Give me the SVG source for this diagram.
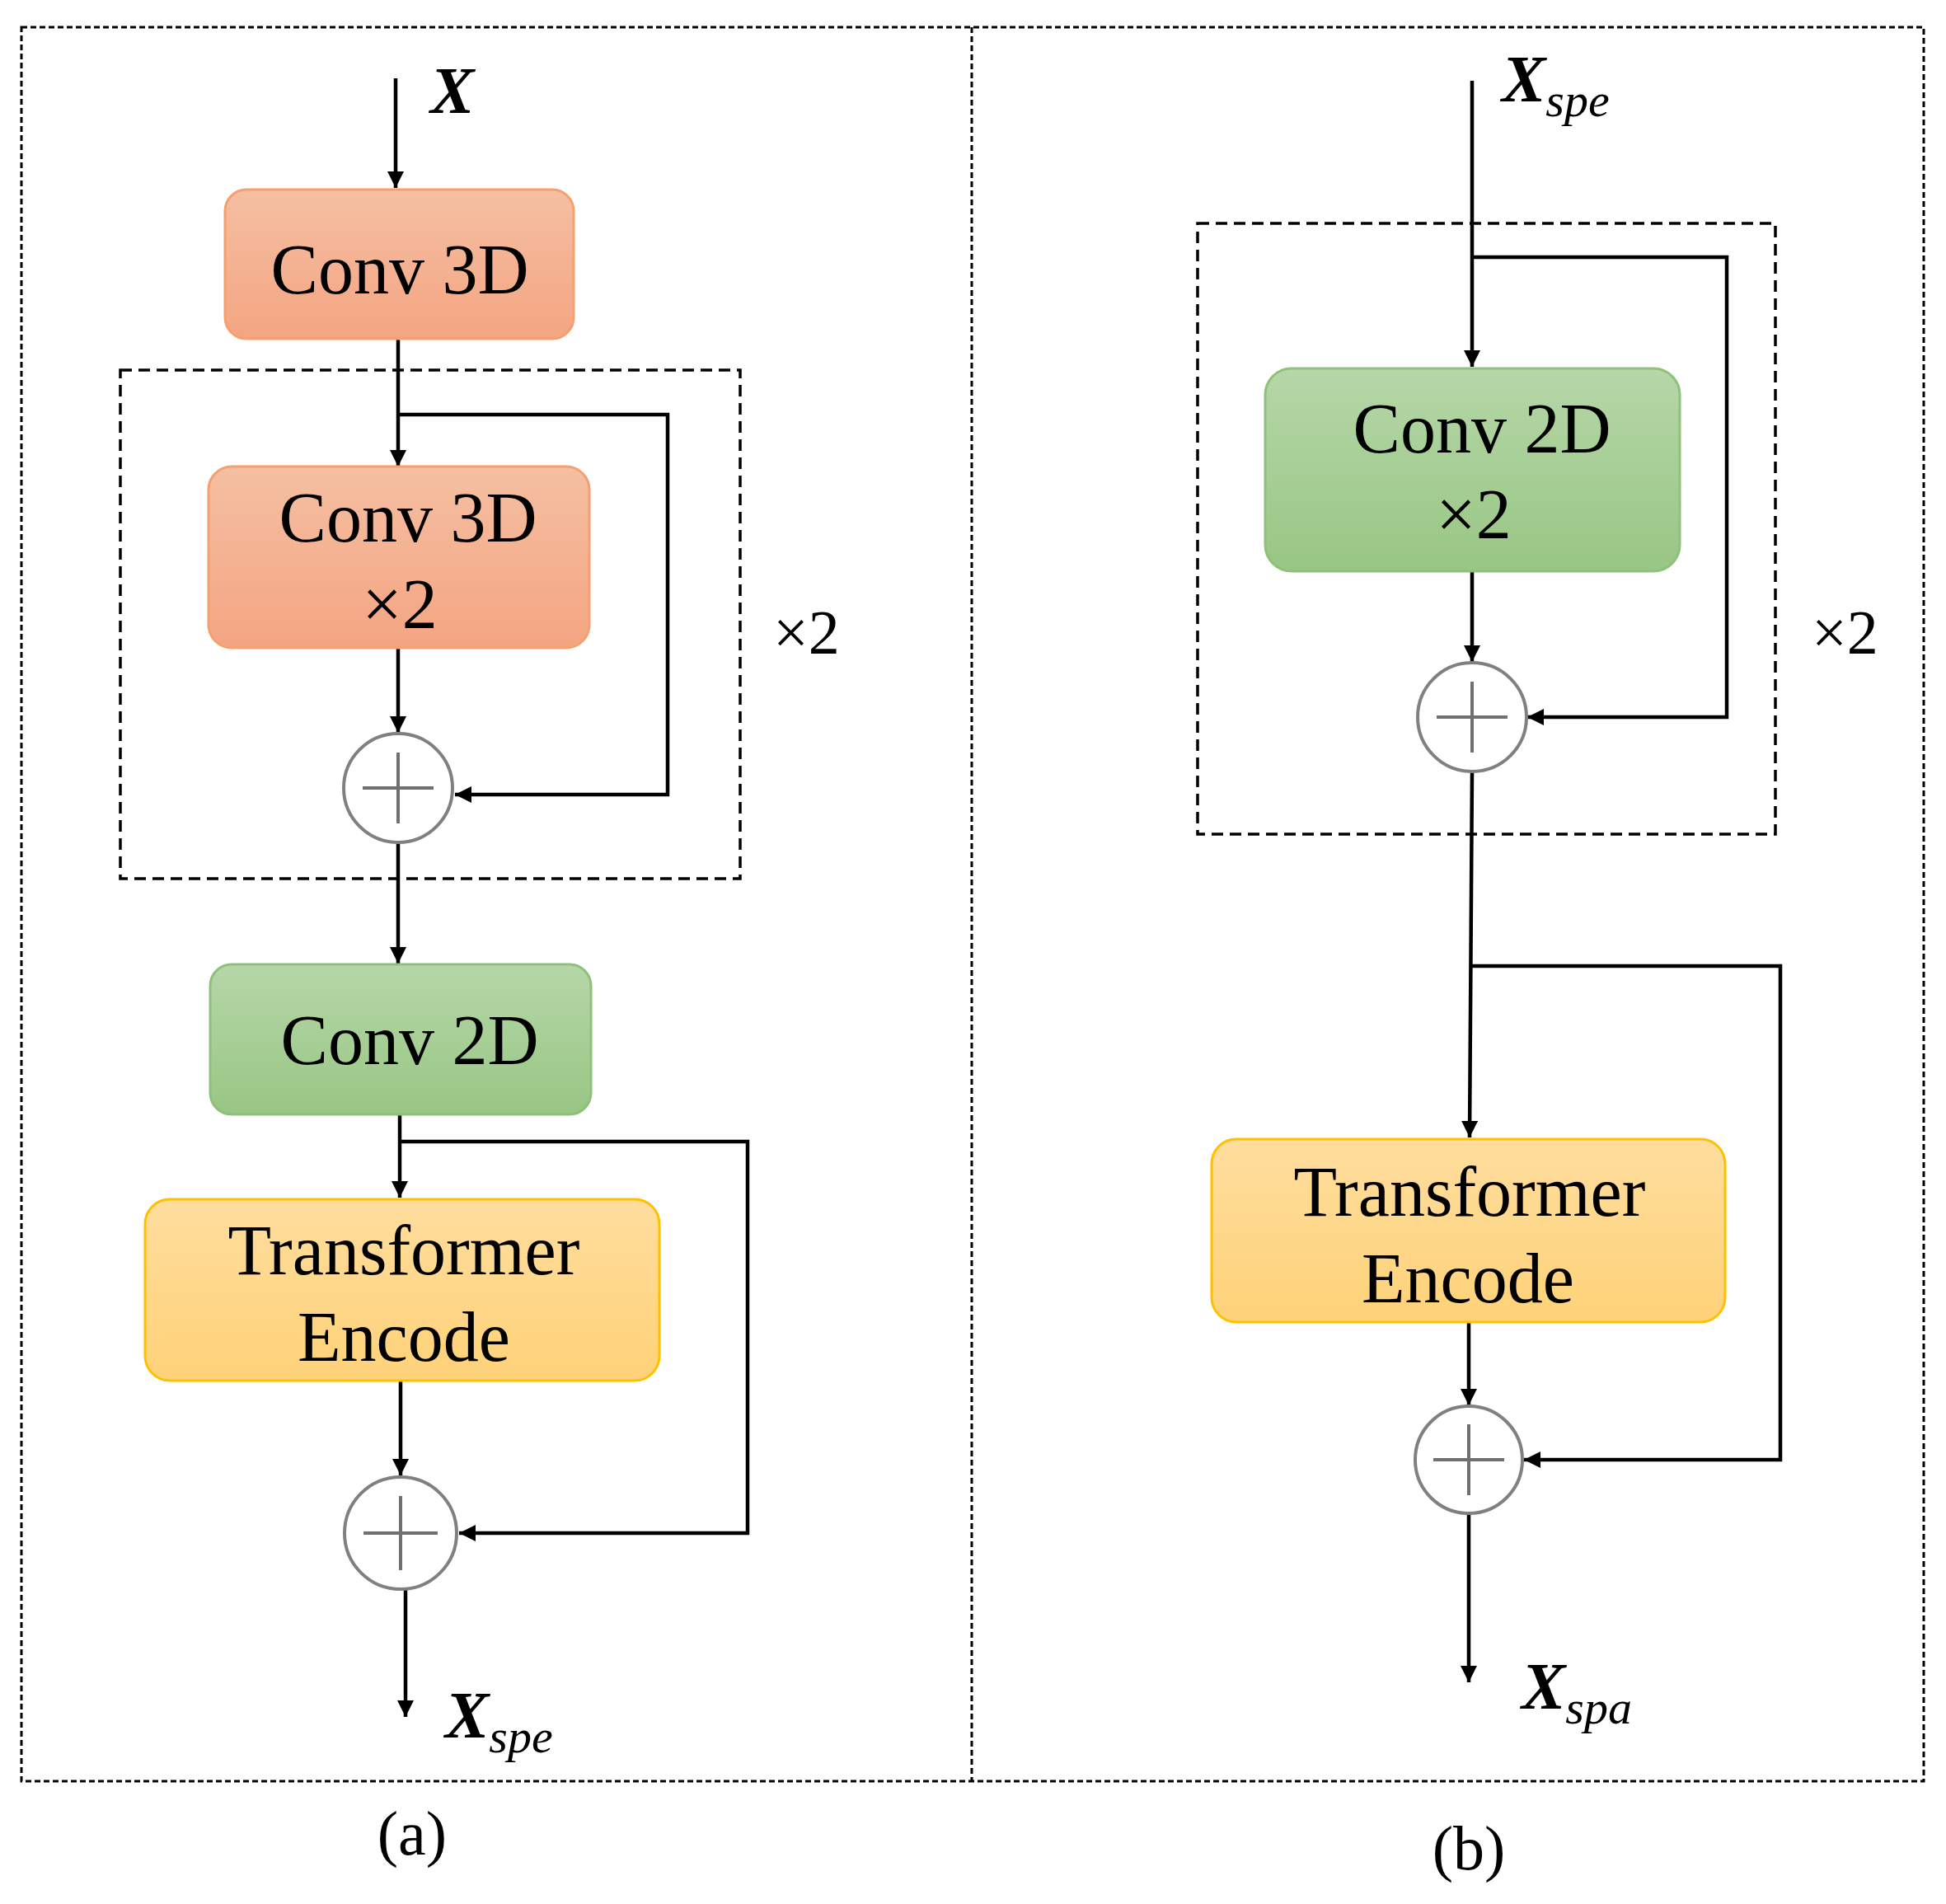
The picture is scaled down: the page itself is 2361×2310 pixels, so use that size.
<svg xmlns="http://www.w3.org/2000/svg" width="2361" height="2310" viewBox="0 0 2361 2310">
<defs>
<linearGradient id="gO" x1="0" y1="0" x2="0" y2="1"><stop offset="0" stop-color="#f5bfa2"/><stop offset="1" stop-color="#f4a582"/></linearGradient>
<linearGradient id="gG" x1="0" y1="0" x2="0" y2="1"><stop offset="0" stop-color="#b6d7a8"/><stop offset="1" stop-color="#98c684"/></linearGradient>
<linearGradient id="gY" x1="0" y1="0" x2="0" y2="1"><stop offset="0" stop-color="#fedd9e"/><stop offset="1" stop-color="#fed278"/></linearGradient>
<marker id="ah" viewBox="0 0 10 10" refX="10" refY="5" markerWidth="4.5" markerHeight="4.5" markerUnits="strokeWidth" orient="auto"><path d="M0,0L10,5L0,10z" fill="#000"/></marker>
</defs>
<style>
.t{font-family:"Liberation Serif",serif;font-size:86px;fill:#000;text-anchor:middle;dominant-baseline:central}
.lab{font-family:"Liberation Serif",serif;fill:#000}
.c{fill:none;stroke:#000;stroke-width:4.5}
.a{fill:none;stroke:#000;stroke-width:4.5;marker-end:url(#ah)}
.d{fill:none;stroke:#000;stroke-width:3.5;stroke-dasharray:14 8}
.od{fill:none;stroke:#000;stroke-width:3;stroke-dasharray:7 4}
.sum{fill:#fff;stroke:#808080;stroke-width:4}
.pl{stroke:#707070;stroke-width:4}
</style>
<rect class="od" x="26" y="33" width="2308" height="2128"/>
<line class="od" x1="1179" y1="33" x2="1179" y2="2161"/>
<rect class="d" x="146" y="449" width="752" height="617"/>
<rect class="d" x="1453" y="271" width="701" height="741"/>
<g id="connectors">
<line class="a" x1="480" y1="95" x2="480" y2="228"/>
<line class="a" x1="483" y1="411" x2="483" y2="566"/>
<polyline class="a" points="483,503 810,503 810,964 552,964"/>
<line class="a" x1="483" y1="786" x2="483" y2="889"/>
<line class="a" x1="483" y1="1022" x2="483" y2="1169"/>
<line class="a" x1="485" y1="1352" x2="485" y2="1453"/>
<polyline class="a" points="485,1385 907,1385 907,1860 557,1860"/>
<line class="a" x1="486" y1="1675" x2="486" y2="1790"/>
<line class="a" x1="492" y1="1928" x2="492" y2="2083"/>
<line class="a" x1="1786" y1="98" x2="1786" y2="445"/>
<polyline class="a" points="1786,312 2095,312 2095,870 1853,870"/>
<line class="a" x1="1786" y1="693" x2="1786" y2="803"/>
<line class="a" x1="1786" y1="937" x2="1783" y2="1380"/>
<polyline class="a" points="1784,1172 2160,1172 2160,1771 1849,1771"/>
<line class="a" x1="1782" y1="1604" x2="1782" y2="1705"/>
<line class="a" x1="1782" y1="1836" x2="1782" y2="2041"/>
</g>
<g id="a_conv3d"><rect x="273" y="230" width="423" height="181" rx="26" fill="url(#gO)" stroke="#f4a070" stroke-width="3"/><text class="t" x="485" y="327">Conv 3D</text></g>
<g id="a_conv3dx2"><rect x="253" y="566" width="462" height="220" rx="28" fill="url(#gO)" stroke="#f4a070" stroke-width="3"/><text class="t" x="495" y="628">Conv 3D</text><text class="t" x="485" y="733">×2</text></g>
<g id="a_sum1"><circle class="sum" cx="483" cy="956" r="66"/><line class="pl" x1="440" y1="956" x2="526" y2="956"/><line class="pl" x1="483" y1="913" x2="483" y2="999"/></g>
<g id="a_conv2d"><rect x="255" y="1170" width="462" height="182" rx="26" fill="url(#gG)" stroke="#8fc17b" stroke-width="3"/><text class="t" x="497" y="1262">Conv 2D</text></g>
<g id="a_trans"><rect x="176" y="1455" width="624" height="220" rx="30" fill="url(#gY)" stroke="#ffc000" stroke-width="3"/><text class="t" x="490" y="1517">Transformer</text><text class="t" x="490" y="1622">Encode</text></g>
<g id="a_sum2"><circle class="sum" cx="486" cy="1860" r="68"/><line class="pl" x1="441" y1="1860" x2="531" y2="1860"/><line class="pl" x1="486" y1="1815" x2="486" y2="1905"/></g>
<g id="b_conv2dx2"><rect x="1535" y="447" width="503" height="246" rx="32" fill="url(#gG)" stroke="#8fc17b" stroke-width="3"/><text class="t" x="1798" y="520">Conv 2D</text><text class="t" x="1788" y="624">×2</text></g>
<g id="b_sum1"><circle class="sum" cx="1786" cy="870" r="66"/><line class="pl" x1="1743" y1="870" x2="1829" y2="870"/><line class="pl" x1="1786" y1="827" x2="1786" y2="913"/></g>
<g id="b_trans"><rect x="1470" y="1382" width="623" height="222" rx="30" fill="url(#gY)" stroke="#ffc000" stroke-width="3"/><text class="t" x="1783" y="1446">Transformer</text><text class="t" x="1781" y="1551">Encode</text></g>
<g id="b_sum2"><circle class="sum" cx="1782" cy="1771" r="65"/><line class="pl" x1="1739" y1="1771" x2="1825" y2="1771"/><line class="pl" x1="1782" y1="1728" x2="1782" y2="1814"/></g>
<g id="labels">
<text class="lab" x="522" y="137" font-size="80" font-weight="bold" font-style="italic">X</text>
<text class="lab" x="540" y="2108" font-size="80" font-weight="bold" font-style="italic">X<tspan font-size="58" font-weight="normal" dy="18">spe</tspan></text>
<text class="lab" x="1822" y="123" font-size="80" font-weight="bold" font-style="italic">X<tspan font-size="58" font-weight="normal" dy="18">spe</tspan></text>
<text class="lab" x="1846" y="2073" font-size="80" font-weight="bold" font-style="italic">X<tspan font-size="58" font-weight="normal" dy="18">spa</tspan></text>
<text class="lab" x="938" y="793" font-size="76">×2</text>
<text class="lab" x="2198" y="793" font-size="76">×2</text>
<text class="lab" x="500" y="2250" font-size="76" text-anchor="middle">(a)</text>
<text class="lab" x="1782" y="2268" font-size="76" text-anchor="middle">(b)</text>
</g>
</svg>
